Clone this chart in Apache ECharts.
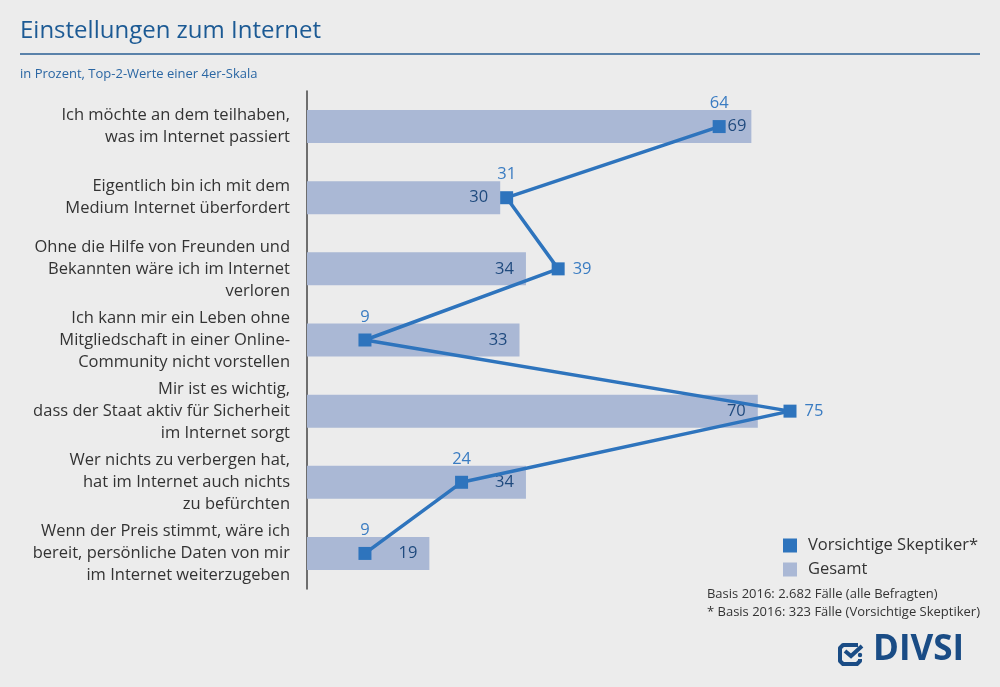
<!DOCTYPE html>
<html>
<head>
<meta charset="utf-8">
<script src="https://cdn.jsdelivr.net/npm/echarts@6/dist/echarts.min.js"></script>
<style>
  html, body { margin: 0; padding: 0; background: #ececec; }
  #chart { width: 1000px; height: 687px; }
</style>
</head>
<body>
<div id="chart"></div>
<script>
// Aussagen (von oben nach unten)
const categories = [
    'Ich möchte an dem teilhaben,\nwas im Internet passiert',
    'Eigentlich bin ich mit dem\nMedium Internet überfordert',
    'Ohne die Hilfe von Freunden und\nBekannten wäre ich im Internet\nverloren',
    'Ich kann mir ein Leben ohne\nMitgliedschaft in einer Online-\nCommunity nicht vorstellen',
    'Mir ist es wichtig,\ndass der Staat aktiv für Sicherheit\nim Internet sorgt',
    'Wer nichts zu verbergen hat,\nhat im Internet auch nichts\nzu befürchten',
    'Wenn der Preis stimmt, wäre ich\nbereit, persönliche Daten von mir\nim Internet weiterzugeben'
];
const gesamt = [69, 30, 34, 33, 70, 34, 19];
const skeptiker = [64, 31, 39, 9, 75, 24, 9];
// Position der Werte-Beschriftung an der Linie
const skeptikerLabelPos = ['top', 'top', 'right', 'top', 'right', 'top', 'top'];

(function () {
    let myChart = echarts.init(document.getElementById('chart'));
    const font = '"Open Sans", Roboto, sans-serif';
    const logoBlue = '#1a4c85';

    let option = {
        backgroundColor: '#ececec',
        animation: false,
        textStyle: { fontFamily: font },
        title: [{
            text: 'Einstellungen zum Internet',
            left: 15, top: 14,
            textStyle: { color: '#1c5a94', fontSize: 24, fontWeight: 'normal', fontFamily: font }
        }, {
            text: 'in Prozent, Top-2-Werte einer 4er-Skala',
            left: 15, top: 63,
            textStyle: { color: '#2a66a3', fontSize: 13, fontWeight: 'normal', fontFamily: font }
        }],
        legend: {
            orient: 'vertical',
            left: 778, top: 532,
            itemWidth: 14, itemHeight: 14, itemGap: 7,
            textStyle: { color: '#333', fontSize: 16.5, fontFamily: font, padding: [0, 0, 0, 6] },
            data: [
                { name: 'Vorsichtige Skeptiker*', icon: 'rect' },
                { name: 'Gesamt', icon: 'rect' }
            ]
        },
        grid: { left: 307, top: 91, width: 644, height: 498 },
        xAxis: {
            type: 'value',
            min: 0, max: 100,
            show: false
        },
        yAxis: {
            type: 'category',
            inverse: true,
            data: categories,
            axisLine: { show: true, lineStyle: { color: '#444', width: 1.5 } },
            axisTick: { show: false },
            axisLabel: {
                color: '#333', fontSize: 16.5, lineHeight: 22,
                margin: 17, align: 'right', fontFamily: font
            }
        },
        series: [{
            name: 'Gesamt',
            type: 'bar',
            data: gesamt.map((v, i) => i === 0 ? { value: v, label: { distance: 5 } } : v),
            barWidth: 33,
            itemStyle: { color: '#aab8d5' },
            z: 1,
            label: {
                show: true, position: 'insideRight', distance: 12,
                color: '#1f4a7e', fontSize: 16.5, fontFamily: font
            }
        }, {
            name: 'Vorsichtige Skeptiker*',
            type: 'line',
            data: skeptiker.map((v, i) => ({
                value: [v, i],
                label: { position: skeptikerLabelPos[i] }
            })),
            symbol: 'rect',
            symbolSize: 13,
            lineStyle: { color: '#2e74bd', width: 3.5 },
            itemStyle: { color: '#2e74bd' },
            z: 3,
            label: {
                show: true, distance: 8,
                color: '#3a7cc2', fontSize: 16.5, fontFamily: font,
                formatter: p => p.value[0]
            }
        }],
        graphic: [{
            type: 'line',
            shape: { x1: 20, y1: 54, x2: 980, y2: 54 },
            style: { stroke: '#2a5f95', lineWidth: 1.5 }
        }, {
            type: 'text',
            right: 20, top: 585,
            style: {
                text: 'Basis 2016: 2.682 Fälle (alle Befragten)\n* Basis 2016: 323 Fälle (Vorsichtige Skeptiker)',
                align: 'right', fill: '#333', fontSize: 13, lineHeight: 18, fontFamily: font
            }
        }, {
            // Logo: offenes Kästchen mit Haken
            type: 'polyline',
            shape: { points: [[858, 645], [843, 645], [840, 648], [840, 661], [843, 664], [857, 664], [860, 661], [860, 659]] },
            style: { stroke: logoBlue, lineWidth: 4, fill: 'none', lineJoin: 'round' }
        }, {
            type: 'polyline',
            shape: { points: [[845, 651], [851, 656], [862, 646]] },
            style: { stroke: logoBlue, lineWidth: 4, fill: 'none' }
        }, {
            type: 'circle',
            shape: { cx: 860, cy: 655, r: 2.2 },
            style: { fill: logoBlue }
        }, {
            type: 'text',
            left: 873, top: 633,
            style: {
                text: 'DIVSI', fill: logoBlue, fontSize: 35, fontWeight: 'bold',
                fontFamily: font
            }
        }]
    };

    myChart.setOption(option);

    window.addEventListener('resize', function () {
        myChart.resize();
    });
})();
</script>
</body>
</html>
